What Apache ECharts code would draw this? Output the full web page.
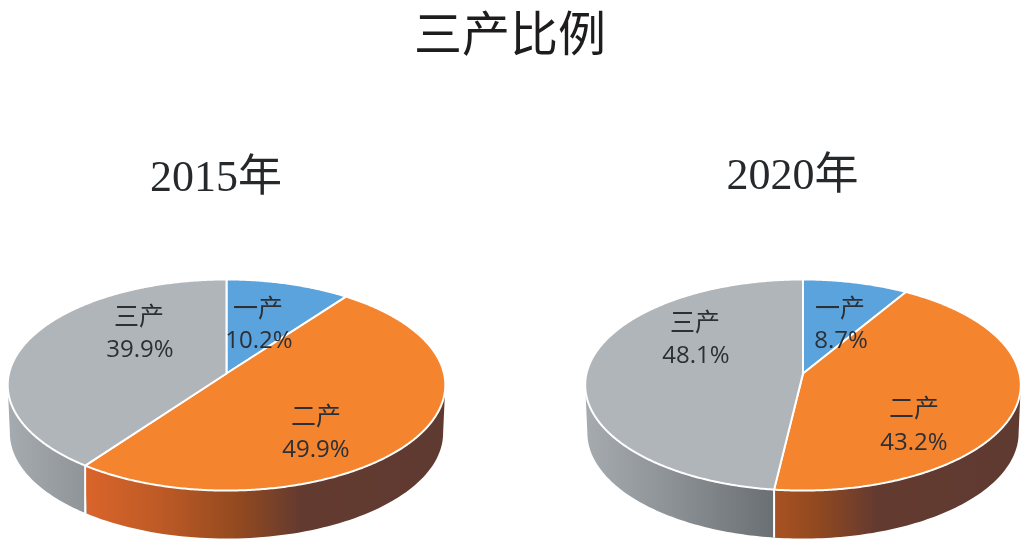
<!DOCTYPE html>
<html>
<head>
<meta charset="utf-8">
<style>html,body{margin:0;padding:0;background:#fff}#c{width:1028px;height:545px}</style>
<script src="https://cdn.jsdelivr.net/npm/echarts@6/dist/echarts.min.js"></script>
</head>
<body>
<div id="c"></div>
<script>
const chartTitle = '三产比例';
const categories = ['一产', '二产', '三产'];
const years = ['2015年', '2020年'];
const values2015 = [10.2, 49.9, 39.9];
const values2020 = [8.7, 43.2, 48.1];

// styling / layout (not data)
const topColors = ['#5ba3dc', '#f5842e', '#b0b5b9'];
const pies = [
  { cx: 226.5, cy: 373.5, B: 217.5, values: values2015,
    labels: [[258, 307, 259, 341], [316, 415, 316, 450], [139, 315, 140, 350]] },
  { cx: 803, cy: 373.5, B: 216.5, values: values2020,
    labels: [[840, 307, 841, 341], [914, 407, 914, 443], [695, 321, 696, 356]] }
];
const K = 0.109, A = 104.3, WALL = 48, WALL_SCALE = 0.99;

function project(p, deg, dy, scale) {
  const t = deg * Math.PI / 180, u = Math.sin(t), v = Math.cos(t), d = 1 + K * v;
  return [p.cx + (scale || 1) * p.B * u / d, p.cy - A * v / d + (dy || 0)];
}
function wallGradient(p, idx) {
  const left = p.cx - 219, w = 438;
  const stops = idx === 1
    ? [[0, '#f0722c'], [0.18, '#d9642a'], [0.35, '#bd5a26'], [0.53, '#92491f'], [0.67, '#633a30'], [1, '#5f3a30']]
    : [[0, '#a6abaf'], [0.18, '#8f9498'], [0.43, '#6b7074'], [1, '#5f6467']];
  return { type: 'linear', global: true, x: left, y: 0, x2: left + w, y2: 0,
    colorStops: stops.map(s => ({ offset: s[0], color: s[1] })) };
}
function makeRender(p) {
  const front0 = Math.acos(-K) * 180 / Math.PI, front1 = 360 - front0;
  return function (params, api) {
    const i = params.dataIndex;
    const total = p.values.reduce((a, b) => a + b, 0);
    const before = p.values.slice(0, i).reduce((a, b) => a + b, 0);
    const val = api.value(0);
    const a0 = before / total * 360, a1 = (before + val) / total * 360;
    const kids = [];
    // side wall
    const w0 = Math.max(a0, front0), w1 = Math.min(a1, front1);
    if (w1 > w0) {
      const pts = [];
      for (let d = w0; d <= w1 + 1e-6; d += (w1 - w0) / 80) pts.push(project(p, d));
      for (let d = w1; d >= w0 - 1e-6; d -= (w1 - w0) / 80) pts.push(project(p, d, WALL, WALL_SCALE));
      kids.push({ type: 'polygon', z2: 0, shape: { points: pts }, style: { fill: wallGradient(p, i) } });
      if (a0 > front0) {
        const q = project(p, a0);
        kids.push({ type: 'line', z2: 1, shape: { x1: q[0], y1: q[1], x2: q[0], y2: q[1] + WALL },
          style: { stroke: '#fff', lineWidth: 2 } });
      }
    }
    // top face
    const top = [[p.cx, p.cy]];
    const n = Math.ceil(a1 - a0) * 2;
    for (let j = 0; j <= n; j++) top.push(project(p, a0 + (a1 - a0) * j / n));
    kids.push({ type: 'polygon', z2: 2, shape: { points: top },
      style: { fill: topColors[i], stroke: '#fff', lineWidth: 2, lineJoin: 'round' } });
    // labels
    const L = p.labels[i];
    kids.push({ type: 'text', z2: 20, style: { x: L[0], y: L[1], text: categories[i], align: 'center',
      verticalAlign: 'middle', fill: '#2b3036', font: '400 25px "Noto Sans CJK SC"' } });
    kids.push({ type: 'text', z2: 20, style: { x: L[2], y: L[3], text: val.toFixed(1) + '%', align: 'center',
      verticalAlign: 'middle', fill: '#2b3036', font: '400 24px "Open Sans"' } });
    return { type: 'group', children: kids };
  };
}
const yearStyle = { fontFamily: '"Liberation Serif","Noto Sans CJK SC"', fontSize: 44, fontWeight: 400, color: '#26292c' };
const chart = echarts.init(document.getElementById('c'), null, { renderer: 'canvas' });
chart.setOption({
  animation: false,
  backgroundColor: '#fff',
  title: [
    { text: chartTitle, left: 505, top: 28, textAlign: 'center', textVerticalAlign: 'middle',
      textStyle: { fontFamily: '"Noto Sans CJK SC"', fontSize: 48, fontWeight: 400, color: '#1e1c1d' } },
    { text: years[0], left: 211, top: 174, textAlign: 'center', textVerticalAlign: 'middle', textStyle: yearStyle },
    { text: years[1], left: 787.5, top: 172, textAlign: 'center', textVerticalAlign: 'middle', textStyle: yearStyle }
  ],
  series: pies.map(p => ({
    type: 'custom',
    coordinateSystem: 'none',
    silent: true,
    renderItem: makeRender(p),
    data: p.values.map(v => [v])
  }))
});
</script>
</body>
</html>
